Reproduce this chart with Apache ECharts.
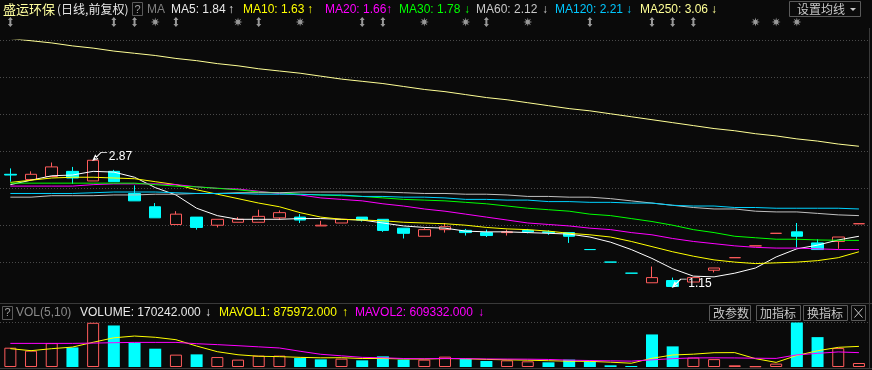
<!DOCTYPE html>
<html><head><meta charset="utf-8">
<script src="https://cdn.jsdelivr.net/npm/echarts@6/dist/echarts.min.js"></script>
<style>html,body{margin:0;padding:0;background:#0a0a0a;}#c{width:872px;height:370px;}</style>
</head><body><div id="c"></div>
<script>
// ---------------- data ----------------
const stockName = '盛运环保';
const periodLabel = '(日线,前复权)';
const days = Array.from({length: 42}, (_, i) => 'D' + (i + 1));
const open  = [2.68,2.61,2.65,2.72,2.59,2.72,2.42,2.24,2.00,2.10, 1.99,2.03,2.03,2.09,2.10,1.98,2.02,2.10,2.07,1.95, 1.84,1.93,1.92,1.89,1.89,1.92,1.90,1.89,1.66,1.49, 1.34,1.21,1.24,1.22,1.38,1.55,1.71,1.88,1.90,1.75, 1.77,2.01];
const close = [2.67,2.68,2.78,2.63,2.87,2.58,2.32,2.09,2.14,1.96, 2.07,2.07,2.11,2.16,2.06,1.99,2.07,2.06,1.92,1.88, 1.93,1.97,1.89,1.85,1.90,1.90,1.89,1.84,1.66,1.49, 1.34,1.28,1.16,1.28,1.41,1.55,1.71,1.88,1.84,1.66, 1.83,2.01];
const low   = [2.58,2.60,2.65,2.55,2.59,2.58,2.32,2.09,2.00,1.93, 1.96,2.03,2.03,2.06,2.02,1.98,2.02,2.04,1.90,1.81, 1.84,1.89,1.85,1.83,1.85,1.88,1.86,1.75,1.66,1.49, 1.34,1.21,1.15,1.22,1.35,1.55,1.71,1.88,1.69,1.66, 1.67,2.01];
const high  = [2.76,2.72,2.84,2.78,2.87,2.74,2.53,2.29,2.18,2.10, 2.07,2.10,2.20,2.19,2.14,2.05,2.07,2.10,2.07,1.95, 1.95,2.02,1.94,1.93,1.93,1.94,1.92,1.89,1.66,1.49, 1.34,1.43,1.28,1.28,1.41,1.55,1.71,1.88,2.02,1.80, 1.83,2.01];
const volume = [820000,694000,1015000,833000,1878000,1764000,1032000,778000,525000,537000, 423000,313000,482000,482000,381000,326000,355000,283000,453000,313000, 313000,440000,338000,254000,283000,241000,199000,313000,241000,72000, 42000,1383000,876000,400000,335000,72000,30000,144000,1993000,1269000, 804000,170242];

const ma5   = [2.54,2.60,2.66,2.67,2.72,2.71,2.64,2.50,2.40,2.22, 2.12,2.07,2.07,2.07,2.08,2.08,2.07,2.06,2.02,1.98, 1.96,1.95,1.91,1.90,1.90,1.89,1.88,1.87,1.83,1.76, 1.66,1.54,1.40,1.30,1.29,1.34,1.41,1.56,1.67,1.72, 1.79,1.84];
const ma10  = [2.57,2.60,2.63,2.64,2.64,2.63,2.62,2.58,2.54,2.47, 2.41,2.35,2.29,2.24,2.16,2.10,2.07,2.06,2.05,2.03, 2.02,2.01,1.99,1.96,1.94,1.93,1.91,1.88,1.86,1.83, 1.77,1.70,1.63,1.57,1.52,1.49,1.47,1.48,1.49,1.51, 1.55,1.63];
const ma20  = [2.52,2.52,2.52,2.52,2.54,2.55,2.55,2.55,2.54,2.51, 2.49,2.48,2.45,2.42,2.40,2.36,2.34,2.32,2.28,2.25, 2.21,2.18,2.14,2.10,2.06,2.02,2.00,1.98,1.95,1.93, 1.89,1.86,1.81,1.77,1.74,1.71,1.69,1.68,1.68,1.67, 1.66,1.66];
const ma30  = [2.56,2.56,2.56,2.56,2.56,2.56,2.56,2.54,2.52,2.51, 2.49,2.47,2.44,2.43,2.41,2.40,2.39,2.38,2.36,2.34, 2.33,2.32,2.30,2.28,2.25,2.22,2.20,2.18,2.14,2.12, 2.08,2.04,1.99,1.93,1.89,1.84,1.82,1.80,1.80,1.79, 1.786,1.784];
const ma60  = [2.37,2.37,2.39,2.39,2.39,2.40,2.40,2.41,2.41,2.42, 2.42,2.43,2.43,2.43,2.44,2.44,2.44,2.44,2.44,2.43, 2.42,2.42,2.41,2.41,2.40,2.38,2.38,2.37,2.37,2.35, 2.32,2.29,2.26,2.23,2.21,2.21,2.18,2.17,2.17,2.15, 2.13,2.12];
const ma120 = [2.42,2.42,2.42,2.42,2.43,2.44,2.44,2.44,2.43,2.42, 2.42,2.42,2.41,2.41,2.41,2.40,2.40,2.38,2.38,2.37, 2.37,2.36,2.34,2.34,2.33,2.33,2.31,2.31,2.30,2.30, 2.29,2.29,2.26,2.25,2.25,2.23,2.23,2.22,2.22,2.22, 2.22,2.21];
const ma250 = [4.52,4.49,4.46,4.42,4.39,4.35,4.32,4.29,4.25,4.22, 4.18,4.15,4.11,4.08,4.05,4.01,3.97,3.94,3.91,3.87, 3.83,3.80,3.76,3.72,3.69,3.65,3.61,3.57,3.54,3.50, 3.46,3.42,3.38,3.34,3.30,3.27,3.23,3.20,3.16,3.13, 3.09,3.06];

const mavol1 = [778000,694000,778000,846000,1050000,1240000,1315000,1262000,1160000,890000, 650000,520000,456000,440000,410000,390000,395000,360000,362000,342000, 340000,358000,350000,322000,305000,290000,267000,245000,240000,205000, 160000,370000,510000,545000,607000,611000,355000,196000,490000,690000, 835000,875972];
const mavol2 = [1003000,1003000,1003000,1003000,1015000,1032000,1045000,1045000,1045000,990000, 950000,905000,856000,808000,668000,540000,475000,410000,392000,360000, 350000,365000,355000,342000,337000,332000,320000,290000,275000,262000, 250000,305000,355000,385000,390000,385000,372000,365000,515000,580000, 640000,609332];

const noticeMarks = [0,5,6,8,12,17,18,23,28,31,32,33];
const starMarks   = [7,11,14,20,22,25,36,37,38];

// ---------------- style ----------------
const BG = '#0a0a0a', RED = '#ff5c5c', CYAN = '#00ffff';
const maDefs = [
  {name:'MA5',   data:ma5,   line:'#ffffff', text:'#e8e8e8', x:171, ax:231},
  {name:'MA10',  data:ma10,  line:'#ffff00', text:'#ffff00', x:243, ax:310},
  {name:'MA20',  data:ma20,  line:'#ff00ff', text:'#ff00ff', x:325, ax:389},
  {name:'MA30',  data:ma30,  line:'#00ff00', text:'#00ff00', x:399, ax:467},
  {name:'MA60',  data:ma60,  line:'#c0c0c0', text:'#c8c8c8', x:476, ax:545},
  {name:'MA120', data:ma120, line:'#00d2ff', text:'#00c8ff', x:555, ax:629},
  {name:'MA250', data:ma250, line:'#ffff96', text:'#ffff96', x:640, ax:714}
];
const last = a => a[a.length - 1];
const trend = a => (a[a.length - 1] >= a[a.length - 2] ? '↑' : '↓');

const LAT = '"Liberation Sans", Arial, sans-serif';
const CJK = '"Noto Sans CJK SC", sans-serif';
const gfx = [];
function txt(x, y, text, fill, font) {
  gfx.push({type:'text', x, y, silent:true, z:10, style:{text, fill, font, verticalAlign:'middle'}});
}
function box(x, y, w, h) {
  gfx.push({type:'rect', silent:true, z:10, shape:{x, y, width:w, height:h}, style:{fill:'none', stroke:'#5a5a5a', lineWidth:1}});
}
function line(x1, y1, x2, y2, c) {
  gfx.push({type:'line', silent:true, z:10, shape:{x1, y1, x2, y2}, style:{stroke:c, lineWidth:1}});
}

// top header
const HY = 9.5;
txt(3, HY, stockName, '#ffff9e', '13px ' + CJK);
txt(57, HY, periodLabel, '#e6e6e6', '12px ' + CJK);
box(132.5, 2.5, 10, 13); txt(134.5, HY, '?', '#a0a0a0', '11px ' + LAT);
txt(147, HY, 'MA', '#808080', '12px ' + LAT);
maDefs.forEach(m => {
  txt(m.x, HY, m.name + ': ' + last(m.data).toFixed(2), m.text, '12px ' + LAT);
  txt(m.ax - 3, HY, trend(m.data), m.text, '12px ' + LAT);
});
box(789.5, 1.5, 71, 15); txt(797, HY, '设置均线', '#c8c8c8', '12px ' + CJK);
gfx.push({type:'polygon', silent:true, z:10, shape:{points:[[850,8],[856,8],[853,11]]}, style:{fill:'#c8c8c8'}});

// separators
line(0, 303.5, 872, 303.5, '#3a3a3a');
line(0, 368.5, 872, 368.5, '#3a3a3a');
line(869.5, 28, 869.5, 368, '#3a3a3a');

// volume header
const VY = 313;
box(2.5, 306.5, 10, 13); txt(4.5, VY, '?', '#a0a0a0', '11px ' + LAT);
txt(16, VY, 'VOL(5,10)', '#8a8a8a', '12px ' + LAT);
txt(80, VY, 'VOLUME: ' + last(volume).toFixed(3), '#e8e8e8', '12px ' + LAT);
txt(205, VY, trend(volume), '#e8e8e8', '12px ' + LAT);
txt(219, VY, 'MAVOL1: ' + last(mavol1).toFixed(3), '#ffff00', '12px ' + LAT);
txt(342, VY, trend(mavol1), '#ffff00', '12px ' + LAT);
txt(355, VY, 'MAVOL2: ' + last(mavol2).toFixed(3), '#ff00ff', '12px ' + LAT);
txt(478, VY, trend(mavol2), '#ff00ff', '12px ' + LAT);
[['改参数', 709.5, 41], ['加指标', 756.5, 44], ['换指标', 803.5, 44]].forEach(([t, x, w]) => {
  box(x, 305.5, w, 15); txt(x + 3.5, VY, t, '#c8c8c8', '12px ' + CJK);
});
box(851.5, 305.5, 14, 15);
line(854.5, 308.5, 862.5, 317.5, '#c8c8c8');
line(862.5, 308.5, 854.5, 317.5, '#c8c8c8');

// ---------------- chart ----------------
const kData = days.map((_, i) => [open[i], close[i], low[i], high[i]]);
const volData = volume.map((v, i) => {
  const up = i === 0 || close[i] >= close[i - 1];
  return {value: v, itemStyle: up ? {color: BG, borderColor: RED, borderWidth: 1} : {color: CYAN, borderWidth: 0}};
});

const GL = -1.4, GR = 2.7;
const xCommon = {type:'category', data: days, boundaryGap: true,
  axisLine:{show:false}, axisTick:{show:false}, axisLabel:{show:false}, splitLine:{show:false}};
const hiddenY = {axisLine:{show:false}, axisTick:{show:false}, axisLabel:{show:false}, splitLine:{show:false}};
const dotted = {show:true, showMinLine:false, lineStyle:{color:'#4a4a4a', width:1, type:[1,2]}};

const noticeSym = 'path://M2.5,0 L5,3 L3.5,3 L3.5,7 L5,7 L2.5,10 L0,7 L1.5,7 L1.5,3 L0,3 Z';
const starSym = 'path://M10,5 L6.85,5.77 L8.54,8.54 L5.77,6.85 L5,10 L4.23,6.85 L1.46,8.54 L3.15,5.77 L0,5 L3.15,4.23 L1.46,1.46 L4.23,3.15 L5,0 L5.77,3.15 L8.54,1.46 L6.85,4.23 Z';

const option = {
  backgroundColor: BG,
  animation: false,
  grid: [
    {left: GL, right: GR, top: 17, height: 10},
    {left: GL, right: GR, top: 40, height: 259},
    {left: GL, right: GR, top: 322.5, height: 44.5}
  ],
  xAxis: [
    Object.assign({gridIndex: 0}, xCommon),
    Object.assign({gridIndex: 1}, xCommon),
    Object.assign({gridIndex: 2}, xCommon)
  ],
  yAxis: [
    Object.assign({gridIndex: 0, type:'value', min: 0, max: 1}, hiddenY),
    Object.assign({gridIndex: 1, type:'value', min: 0.99, max: 4.50, scale: true}, hiddenY),
    Object.assign({gridIndex: 1, type:'value', min: 0, max: 7, interval: 1}, hiddenY, {splitLine: dotted}),
    Object.assign({gridIndex: 2, type:'value', min: 0, max: 1890000}, hiddenY),
    Object.assign({gridIndex: 2, type:'value', min: 0, max: 1, interval: 1}, hiddenY, {splitLine: dotted})
  ],
  series: [
    {type:'scatter', xAxisIndex:0, yAxisIndex:0, clip:false, symbol: noticeSym, symbolSize:[5,10],
     itemStyle:{color:'#bdbdbd'}, data: noticeMarks.map(i => [i, 0.5])},
    {type:'scatter', xAxisIndex:0, yAxisIndex:0, clip:false, symbol: starSym, symbolSize:[9,9],
     itemStyle:{color:'#bdbdbd'}, data: starMarks.map(i => [i, 0.5])},
    {type:'candlestick', name:'K', xAxisIndex:1, yAxisIndex:1, z:2, barWidth: 12,
     itemStyle:{color: BG, color0: CYAN, borderColor: RED, borderColor0: CYAN, borderWidth: 1},
     data: kData,
     markPoint: {
       symbol: 'path://M0,8 L4.5,7.2 L2.2,5 Z M1,7.4 L8,3 L14,3',
       symbolSize: [14, 8], symbolOffset: [7, -4],
       itemStyle: {color: 'transparent', borderColor: '#ffffff', borderWidth: 1},
       label: {show: true, position: 'right', distance: 1, color: '#ffffff', fontSize: 12,
               fontFamily: 'Liberation Sans', formatter: p => Number(p.value).toFixed(2)},
       data: [{type:'max', valueDim:'highest'}, {type:'min', valueDim:'lowest'}]
     }},
    ...maDefs.map(m => ({type:'line', name:m.name, xAxisIndex:1, yAxisIndex:1, z:3, data:m.data,
      symbol:'none', lineStyle:{color:m.line, width:1}, itemStyle:{color:m.line}})),
    {type:'bar', xAxisIndex:2, yAxisIndex:3, barWidth: 12, data: volData},
    {type:'line', xAxisIndex:2, yAxisIndex:3, z:3, data: mavol1, symbol:'none', lineStyle:{color:'#ffff00', width:1}},
    {type:'line', xAxisIndex:2, yAxisIndex:3, z:3, data: mavol2, symbol:'none', lineStyle:{color:'#ff00ff', width:1}}
  ],
  graphic: gfx
};
echarts.init(document.getElementById('c')).setOption(option);
</script></body></html>
